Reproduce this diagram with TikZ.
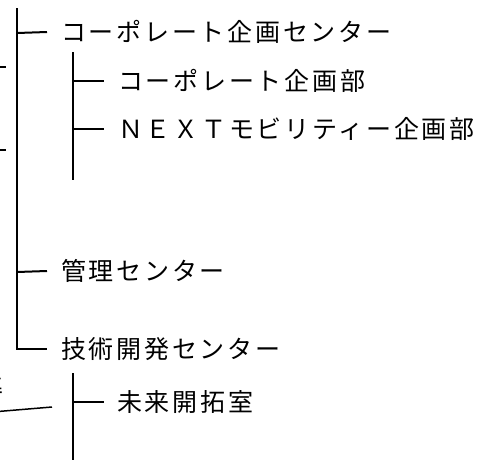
\documentclass[tikz,border=0pt]{standalone}
\usepackage{fontspec}
\usepackage{tikz}
\usetikzlibrary{positioning, calc}
\newfontfamily\jpfont[LetterSpace=11]{Noto Sans CJK JP}
\newfontfamily\jpplain{Noto Sans CJK JP}

\begin{document}
\begin{tikzpicture}[x=1pt, y=-1pt,
    orgtext/.style={anchor=west, inner sep=0pt, font=\jpfont\fontsize{25pt}{28pt}\selectfont},
    branch/.style={line width=2pt},
    feed/.style={line width=1.5pt}]
    \clip (0,0) rectangle (488,459);
    % trunks
    \coordinate (trunkTop) at (17,8);
    \coordinate (b1) at (17,33);
    \coordinate (b2) at (17,272);
    \coordinate (subTopA) at (73,52);
    \coordinate (subBotA) at (73,180);
    \coordinate (subTopB) at (73,373);
    \coordinate (subBotB) at (73,470);
    % units
    \node[orgtext] (planC) at (61,32) {コーポレート企画センター};
    \node[orgtext] (corpDept) at (118,81) {コーポレート企画部};
    \node[orgtext] (nextDept) at (118,129) {ＮＥＸＴモビリティー企画部};
    \node[orgtext] (mgmtC) at (61,271) {管理センター};
    \node[orgtext] (techC) at (61,349) {技術開発センター};
    \node[orgtext] (miraiRoom) at (117,402) {未来開拓室};
    \node[anchor=east, inner sep=0pt, font=\jpplain\fontsize{25pt}{28pt}\selectfont] (cutText) at (4,387) {準};
    % main trunk
    \draw[branch] (trunkTop) |- ([xshift=-14pt]techC.west);
    \draw[branch] (b1) -- ([xshift=-14pt]planC.west);
    \draw[branch] (b2) -- ([xshift=-14pt]mgmtC.west);
    % planning center
    \draw[branch] (subTopA) -- (subBotA);
    \draw[branch] (subTopA |- corpDept.west) -- ([xshift=-14pt]corpDept.west);
    \draw[branch] (subTopA |- nextDept.west) -- ([xshift=-14pt]nextDept.west);
    % tech center
    \draw[branch] (subTopB) -- (subBotB);
    \draw[branch] (subTopB |- miraiRoom.west) -- ([xshift=-13pt]miraiRoom.west);
    % stubs from the left
    \coordinate (stubA) at (-10,67);
    \coordinate (stubB) at (-10,150);
    \draw[branch] (stubA) -- ++(16,0);
    \draw[branch] (stubB) -- ++(16,0);
    \coordinate (feedIn) at (-20,413);
    \draw[feed] (feedIn) -- (52,407);
\end{tikzpicture}
\end{document}
